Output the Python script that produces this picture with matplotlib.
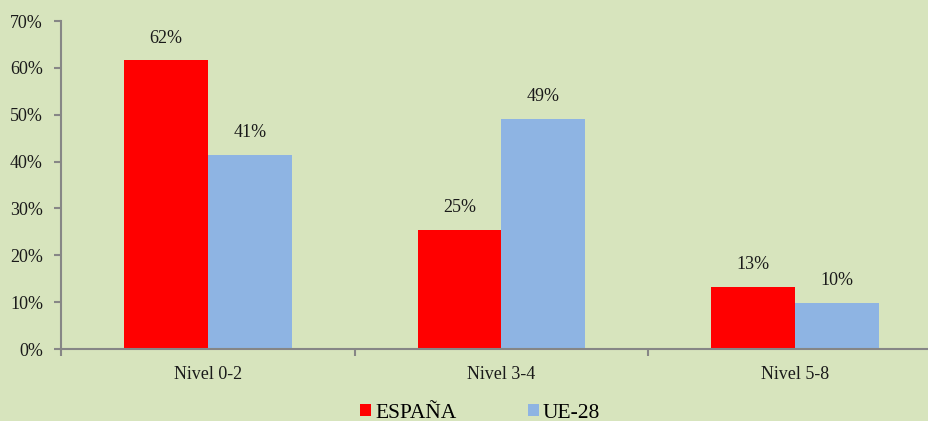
import numpy as np
import matplotlib
matplotlib.use("Agg")
import matplotlib.pyplot as plt
from matplotlib.ticker import PercentFormatter

# data
categories = ["Nivel 0-2", "Nivel 3-4", "Nivel 5-8"]
espana = [61.6, 25.4, 13.2]
ue28 = [41.4, 49.1, 9.8]
espana_labels = ["62%", "25%", "13%"]
ue28_labels = ["41%", "49%", "10%"]

bg = "#D7E4BD"
red = "#FF0000"
blue = "#8EB4E3"
grey = "#868686"

plt.rcParams["font.family"] = ["Liberation Serif", "DejaVu Serif"]
plt.rcParams["font.size"] = 13

fig = plt.figure(figsize=(9.29, 4.21), dpi=100, facecolor=bg)
# axes extends slightly past the right edge like the original
ax = fig.add_axes([61 / 929, 1 - 349 / 421, 881 / 929, 328 / 421])
ax.set_facecolor(bg)

x = np.arange(len(categories))
w = 0.2857
b1 = ax.bar(x - w / 2, espana, w, color=red, label="ESPAÑA")
b2 = ax.bar(x + w / 2, ue28, w, color=blue, label="UE-28")

for bars, labels in ((b1, espana_labels), (b2, ue28_labels)):
    for bar, lab in zip(bars, labels):
        ax.annotate(lab, (bar.get_x() + bar.get_width() / 2, bar.get_height()),
                    xytext=(0, 16), textcoords="offset points",
                    ha="center", va="center", color="#1a1a1a")

ax.set_xlim(-0.5, len(categories) - 0.5)
ax.set_ylim(0, 70)
ax.set_yticks(np.arange(0, 71, 10))
ax.yaxis.set_major_formatter(PercentFormatter(decimals=0))

# category labels in the middle, tick marks on the boundaries
ax.set_xticks(x)
ax.set_xticklabels(categories)
ax.tick_params(axis="x", length=0, pad=12, colors="#1a1a1a")
ax.set_xticks(np.arange(-0.5, len(categories), 1), minor=True)
ax.tick_params(axis="x", which="minor", length=5, color=grey, width=1.5)
ax.tick_params(axis="y", length=5, color=grey, width=1.5, labelcolor="#1a1a1a", pad=8)

for s in ("top", "right"):
    ax.spines[s].set_visible(False)
for s in ("left", "bottom"):
    ax.spines[s].set_color(grey)
    ax.spines[s].set_linewidth(1.5)

fig.legend(loc="center left", bbox_to_anchor=(341 / 929, 1 - 413 / 421), ncol=2, frameon=False,
           handlelength=0.5, handleheight=0.5, handletextpad=0.2, columnspacing=3.3,
           fontsize=15.5)

fig.savefig("out.png", dpi=100, facecolor=bg)
